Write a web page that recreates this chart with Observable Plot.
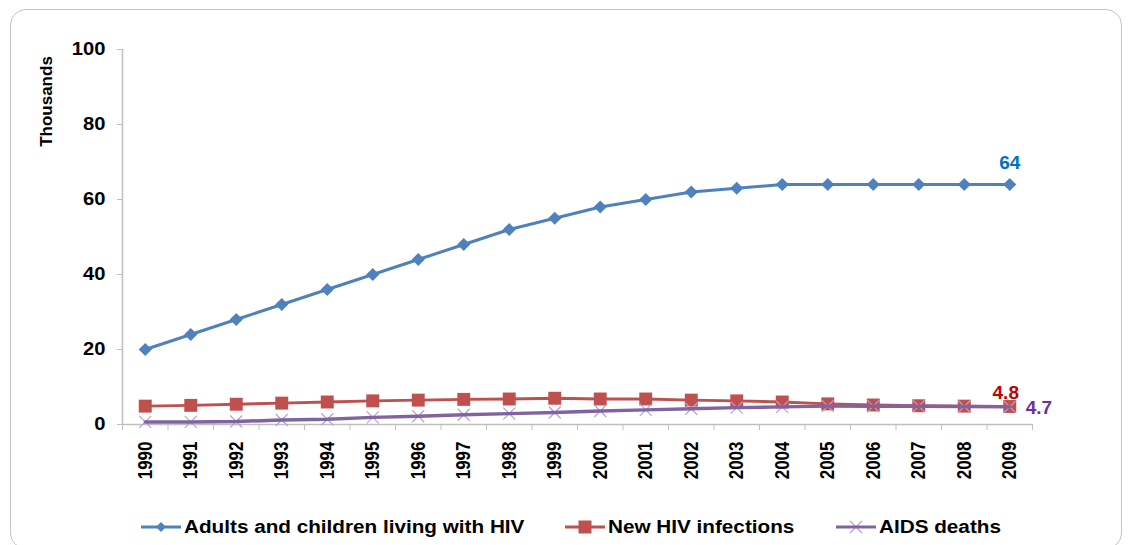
<!DOCTYPE html>
<html><head><meta charset="utf-8">
<script src="https://cdn.jsdelivr.net/npm/d3@7"></script>
<script src="https://cdn.jsdelivr.net/npm/@observablehq/plot@0.6"></script>
<style>
body{margin:0;background:#fff;font-family:"Liberation Sans",Arial,sans-serif;}
#frame{position:absolute;left:10px;top:9px;width:1112px;height:540px;border:1.5px solid #c4c4c4;border-radius:16px;box-sizing:border-box;}
#chart{position:absolute;left:0;top:0;}
#legend{position:absolute;top:514px;left:0;width:1129px;height:26px;font-weight:bold;font-size:18px;color:#000;}
.item{position:absolute;top:0;height:26px;display:flex;align-items:center;white-space:nowrap;}
.item svg{margin-right:3px;}
.item span{display:inline-block;transform:scaleX(1.15);transform-origin:left center;}
</style></head><body>
<div id="frame"></div><div id="chart"></div><div id="legend"></div>
<script>
const years = [1990,1991,1992,1993,1994,1995,1996,1997,1998,1999,2000,2001,2002,2003,2004,2005,2006,2007,2008,2009];
const living = [20,24,28,32,36,40,44,48,52,55,58,60,62,63,64,64,64,64,64,64];
const newInfections = [4.9,5.1,5.4,5.7,6.0,6.3,6.5,6.7,6.8,7.0,6.8,6.8,6.5,6.3,6.0,5.5,5.2,5.0,4.9,4.8];
const deaths = [0.7,0.7,0.8,1.2,1.4,1.9,2.2,2.6,2.9,3.2,3.6,3.9,4.2,4.5,4.7,4.9,4.9,4.9,4.8,4.7];
const yTicks = [0,20,40,60,80,100];
const seriesNames = ["Adults and children living with HIV","New HIV infections","AIDS deaths"];
const endLabels = ["64","4.8","4.7"];

const rows = years.map((y,i)=>({year:y, living:living[i], inf:newInfections[i], deaths:deaths[i]}));
const last = rows[rows.length-1];
const bounds = years.map(y=>y-0.5).concat([years[years.length-1]+0.5]);

const blue="#4F81BD", red="#C0504D", purple="#8064A2", lav="#B3A2D3", axisGray="#BFBFBF";

const chart = Plot.plot({
  width:1129, height:500,
  marginLeft:122, marginRight:97, marginTop:49, marginBottom:76,
  x:{domain:[years[0]-0.5, years[years.length-1]+0.5]},
  y:{domain:[0,100]},
  style:{fontFamily:"'Liberation Sans', Arial, sans-serif", fontWeight:"bold", color:"#000", background:"transparent", overflow:"visible"},
  marks:[
    Plot.axisY({ticks:yTicks, tickSize:5, tickPadding:12, stroke:axisGray, fill:"#000", fontSize:18, fontWeight:"bold", label:null}),
    Plot.axisX({ticks:bounds, tickSize:6, tickFormat:()=>"", stroke:axisGray, label:null}),
    Plot.ruleY([0],{stroke:axisGray, strokeWidth:1.5}),
    Plot.ruleX([years[0]-0.5],{stroke:axisGray, strokeWidth:1.5}),
    Plot.text(years,{x:d=>d, frameAnchor:"bottom", text:d=>String(d), rotate:-90, textAnchor:"end", lineAnchor:"middle", dy:17, fontSize:17, fontWeight:"bold", fill:"#000", className:"xlab"}),
    Plot.text(["Thousands"],{frameAnchor:"top-left", text:d=>d, rotate:-90, textAnchor:"middle", lineAnchor:"middle", dx:-76, dy:52, fontSize:17, fontWeight:"bold", fill:"#000"}),
    // living
    Plot.line(rows,{x:"year", y:"living", stroke:blue, strokeWidth:3}),
    Plot.dot(rows,{x:"year", y:"living", symbol:"diamond2", r:5.9, fill:blue, stroke:null}),
    // new infections
    Plot.line(rows,{x:"year", y:"inf", stroke:red, strokeWidth:3}),
    Plot.dot(rows,{x:"year", y:"inf", symbol:"square", r:7.3, fill:red, stroke:null}),
    // deaths
    Plot.dot(rows,{x:"year", y:"deaths", symbol:"times", r:5.5, stroke:lav, strokeWidth:1.2}),
    Plot.line(rows,{x:"year", y:"deaths", stroke:purple, strokeWidth:3.5}),
    // end labels
    Plot.text([last],{x:"year", y:"living", text:()=>endLabels[0], dy:-22, fill:"#0070C0", fontSize:19, fontWeight:"bold"}),
    Plot.text([last],{x:"year", y:"inf", text:()=>endLabels[1], dy:-14, dx:-4, fill:"#C00000", fontSize:19, fontWeight:"bold"}),
    Plot.text([last],{x:"year", y:"deaths", text:()=>endLabels[2], textAnchor:"start", dx:16, dy:1, fill:"#7030A0", fontSize:19, fontWeight:"bold"})
  ]
});
// widen glyphs like the stretched original
d3.select(chart).selectAll("g.xlab text").attr("transform", function(){ return (this.getAttribute("transform")||"") + " scale(1,1.2)"; });
d3.select(chart).selectAll('g[aria-label="y-axis tick label"] text').attr("transform", function(){ return (this.getAttribute("transform")||"") + " scale(1.12,1)"; });
document.getElementById("chart").appendChild(chart);

// legend (HTML, below the plot area)
const legendItems = [
  {name:seriesNames[0], color:blue, sym:"diamond", left:141},
  {name:seriesNames[1], color:red, sym:"square", left:565},
  {name:seriesNames[2], color:purple, sym:"times", left:836}
];
const leg = document.getElementById("legend");
legendItems.forEach(it=>{
  const div = document.createElement("div");
  div.className="item"; div.style.left=it.left+"px";
  let m="";
  if(it.sym==="diamond") m=`<path d="M20 5 L25 10 L20 15 L15 10Z" fill="${it.color}"/>`;
  if(it.sym==="square") m=`<rect x="13.5" y="3.5" width="13" height="13" fill="${it.color}"/>`;
  if(it.sym==="times") m=`<path d="M14 4 L26 16 M26 4 L14 16" stroke="${lav}" stroke-width="1.2"/>`;
  const lineFirst = it.sym==="times";
  div.innerHTML = `<svg width="40" height="20" viewBox="0 0 40 20">${lineFirst?m:""}<line x1="0" y1="10" x2="40" y2="10" stroke="${it.color}" stroke-width="3"/>${lineFirst?"":m}</svg><span>${it.name}</span>`;
  leg.appendChild(div);
});
</script>
</body></html>
